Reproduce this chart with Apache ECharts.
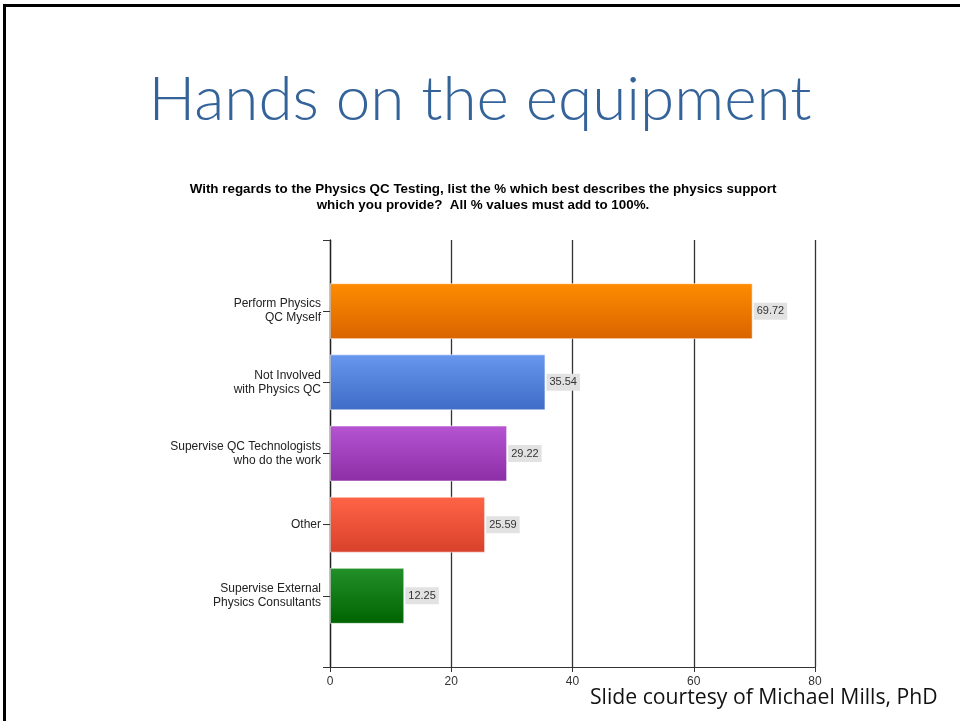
<!DOCTYPE html>
<html>
<head>
<meta charset="utf-8">
<script src="https://cdn.jsdelivr.net/npm/echarts@6/dist/echarts.min.js"></script>
<style>
  html, body { margin: 0; padding: 0; background: #fff; }
  #chart { width: 960px; height: 721px; }
</style>
</head>
<body>
<div id="chart"></div>
<script>
// Survey answers, top to bottom
const categories = [
  'Perform Physics\nQC Myself',
  'Not Involved\nwith Physics QC',
  'Supervise QC Technologists\nwho do the work',
  'Other',
  'Supervise External\nPhysics Consultants'
];
const values = [69.72, 35.54, 29.22, 25.59, 12.25];
const xTicks = [0, 20, 40, 60, 80];

// Gradient colour pairs (top, bottom) for each bar
const palette = [
  ['#ff8c00', '#d96400'],
  ['#6897ee', '#3e6cc6'],
  ['#b654d2', '#8c2ea6'],
  ['#ff6446', '#d8412a'],
  ['#23902a', '#006400']
];

const chart = echarts.init(document.getElementById('chart'), null, { renderer: 'canvas' });

// Empty slots above and below keep half-band margins like the original plot
const axisData = [''].concat(categories, ['']);
const barData = ['-'].concat(values.map((v, i) => ({
  value: v,
  itemStyle: {
    color: new echarts.graphic.LinearGradient(0, 0, 0, 1, [
      { offset: 0, color: palette[i][0] },
      { offset: 1, color: palette[i][1] }
    ])
  }
})), ['-']);

chart.setOption({
  animation: false,
  backgroundColor: '#ffffff',
  grid: { left: 330, right: 145, top: 240, bottom: 54 },
  xAxis: {
    type: 'value',
    min: xTicks[0],
    max: xTicks[xTicks.length - 1],
    interval: xTicks[1] - xTicks[0],
    axisLine: { show: true, lineStyle: { color: '#333', width: 1.2 } },
    axisTick: { show: true, length: 5, lineStyle: { color: '#333' } },
    axisLabel: { color: '#333', fontSize: 12, fontFamily: 'Liberation Sans, Arial, sans-serif', margin: 9 },
    splitLine: { show: true, lineStyle: { color: '#333', width: 1.3 } }
  },
  yAxis: {
    type: 'category',
    inverse: true,
    boundaryGap: false,
    data: axisData,
    axisLine: { show: true, lineStyle: { color: '#222', width: 1.3 } },
    axisTick: { show: true, length: 7, alignWithLabel: true, lineStyle: { color: '#333' } },
    axisLabel: {
      color: '#222',
      fontSize: 12,
      lineHeight: 14,
      fontFamily: 'Liberation Sans, Arial, sans-serif',
      margin: 9,
      align: 'right'
    },
    splitLine: { show: false }
  },
  series: [{
    type: 'bar',
    data: barData,
    barWidth: 56,
    itemStyle: { borderColor: 'rgba(255,255,255,0.55)', borderWidth: 1 },
    label: {
      show: true,
      position: 'right',
      distance: 1,
      formatter: p => p.value.toFixed(2),
      color: '#333',
      fontSize: 11,
      fontFamily: 'Liberation Sans, Arial, sans-serif',
      backgroundColor: '#e2e2e2',
      padding: [3, 3, 3, 3]
    }
  }],
  graphic: [
    {
      type: 'rect',
      shape: { x: 4.5, y: 5.5, width: 1000, height: 800 },
      style: { fill: 'none', stroke: '#000', lineWidth: 3 },
      silent: true
    },
    {
      type: 'text',
      left: 'center',
      top: 69,
      style: {
        text: 'Hands on the equipment',
        fill: '#34639a',
        font: '300 62px Lato, "Open Sans", sans-serif'
      }
    },
    {
      type: 'text',
      x: 483,
      y: 181,
      style: {
        text: 'With regards to the Physics QC Testing, list the % which best describes the physics support\nwhich you provide?  All % values must add to 100%.',
        fill: '#000',
        font: 'bold 13.4px "Liberation Sans", Arial, sans-serif',
        align: 'center',
        lineHeight: 16
      }
    },
    {
      type: 'text',
      x: 590,
      y: 687,
      style: {
        text: 'Slide courtesy of Michael Mills, PhD',
        fill: '#111',
        font: '21.2px "Open Sans", sans-serif'
      }
    }
  ]
});
</script>
</body>
</html>
